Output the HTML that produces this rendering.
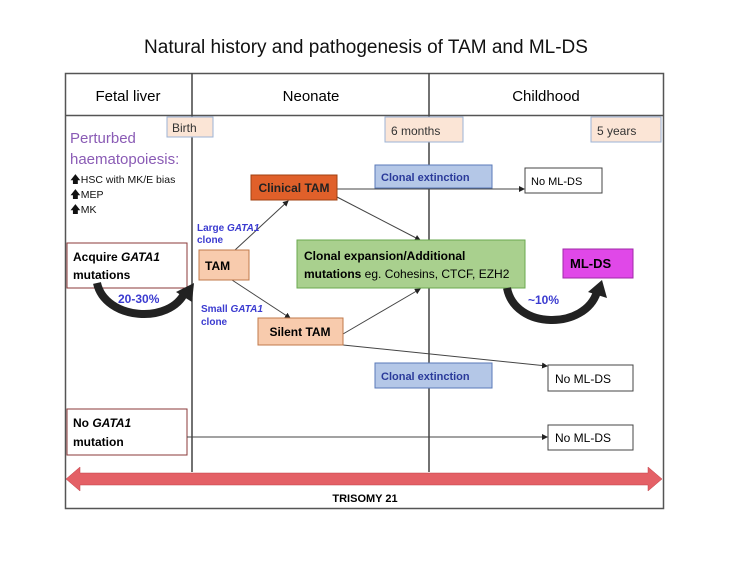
<!DOCTYPE html>
<html><head><meta charset="utf-8"><style>
body{margin:0;background:#fff;}
svg{display:block;font-family:"Liberation Sans",sans-serif;}
</style></head><body>
<svg width="737" height="568" viewBox="0 0 737 568">
<defs>
<marker id="ah" markerWidth="6" markerHeight="6" refX="5" refY="3" orient="auto"><path d="M0,0 L6,3 L0,6z" fill="#222"/></marker>
</defs>
<text x="366" y="53" text-anchor="middle" font-size="19" fill="#111">Natural history and pathogenesis of TAM and ML-DS</text>
<rect x="65.5" y="73.5" width="598" height="435" fill="none" stroke="#555" stroke-width="1.5"/>
<line x1="65" y1="115.5" x2="664" y2="115.5" stroke="#555" stroke-width="1.5"/>
<line x1="192" y1="73" x2="192" y2="472" stroke="#444" stroke-width="1.5"/>
<line x1="429" y1="73" x2="429" y2="472" stroke="#444" stroke-width="1.5"/>
<text x="128" y="101" text-anchor="middle" font-size="15">Fetal liver</text>
<text x="311" y="101" text-anchor="middle" font-size="15">Neonate</text>
<text x="546" y="101" text-anchor="middle" font-size="15">Childhood</text>

<g><rect x="167" y="117" width="46" height="20" fill="#fbe5d6" stroke="#9db3d6"/><text x="172" y="132" font-size="12" fill="#333">Birth</text></g>
<g><rect x="385" y="117" width="78" height="25" fill="#fbe5d6" stroke="#9db3d6"/><text x="391" y="135" font-size="12" fill="#333">6 months</text></g>
<g><rect x="591" y="117" width="70" height="25" fill="#fbe5d6" stroke="#9db3d6"/><text x="597" y="135" font-size="12" fill="#333">5 years</text></g>

<g>
<text x="70" y="143" font-size="15" fill="#8a5bb5">Perturbed</text>
<text x="70" y="164" font-size="15" fill="#8a5bb5">haematopoiesis:</text>
<text x="70" y="183" font-size="10.5" fill="#111">🡅HSC with MK/E bias</text>
<text x="70" y="198" font-size="10.5" fill="#111">🡅MEP</text>
<text x="70" y="213" font-size="10.5" fill="#111">🡅MK</text>
</g>

<g><rect x="67" y="243" width="120" height="45" fill="#fff" stroke="#8b3a3a"/><text x="73" y="261" font-size="12" font-weight="bold">Acquire <tspan font-style="italic">GATA1</tspan></text><text x="73" y="279" font-size="12" font-weight="bold">mutations</text></g>
<g><rect x="67" y="409" width="120" height="46" fill="#fff" stroke="#8b3a3a"/><text x="73" y="427" font-size="12" font-weight="bold">No <tspan font-style="italic">GATA1</tspan></text><text x="73" y="446" font-size="12" font-weight="bold">mutation</text></g>

<g stroke="#444" stroke-width="1" fill="none">
<line x1="235" y1="250" x2="288" y2="201" marker-end="url(#ah)"/>
<line x1="232" y1="280" x2="290" y2="318" marker-end="url(#ah)"/>
<line x1="337" y1="189" x2="524" y2="189" marker-end="url(#ah)"/>
<line x1="337" y1="197" x2="420" y2="240" marker-end="url(#ah)"/>
<line x1="343" y1="334" x2="420" y2="289" marker-end="url(#ah)"/>
<line x1="343" y1="345" x2="547" y2="366" marker-end="url(#ah)"/>
<line x1="187" y1="437" x2="547" y2="437" marker-end="url(#ah)"/>
</g>

<text x="197" y="231" font-size="10" font-weight="bold" fill="#3b3bd0">Large <tspan font-style="italic">GATA1</tspan></text>
<text x="197" y="243" font-size="10" font-weight="bold" fill="#3b3bd0">clone</text>
<text x="201" y="312" font-size="10" font-weight="bold" fill="#3b3bd0">Small <tspan font-style="italic">GATA1</tspan></text>
<text x="201" y="325" font-size="10" font-weight="bold" fill="#3b3bd0">clone</text>

<g><rect x="199" y="250" width="50" height="30" fill="#f8cbad" stroke="#c0784a"/><text x="205" y="270" font-size="12" font-weight="bold">TAM</text></g>
<g><rect x="251" y="175" width="86" height="25" fill="#e0602a" stroke="#a04010"/><text x="294" y="192" text-anchor="middle" font-size="12" font-weight="bold" fill="#222">Clinical TAM</text></g>
<g><rect x="258" y="318" width="85" height="27" fill="#f8cbad" stroke="#c0784a"/><text x="300" y="336" text-anchor="middle" font-size="12" font-weight="bold">Silent TAM</text></g>
<g><rect x="297" y="240" width="228" height="48" fill="#a9d08e" stroke="#6aa84f"/><text x="304" y="260" font-size="12" font-weight="bold">Clonal expansion/Additional</text><text x="304" y="278" font-size="12"><tspan font-weight="bold">mutations</tspan> eg. Cohesins, CTCF, EZH2</text></g>
<g><rect x="375" y="165" width="117" height="23" fill="#b4c7e7" stroke="#5a7ab8"/><text x="381" y="181" font-size="11" font-weight="bold" fill="#2a3a9a">Clonal extinction</text></g>
<g><rect x="375" y="363" width="117" height="25" fill="#b4c7e7" stroke="#5a7ab8"/><text x="381" y="380" font-size="11" font-weight="bold" fill="#2a3a9a">Clonal extinction</text></g>
<g><rect x="525" y="168" width="77" height="25" fill="#fff" stroke="#444"/><text x="531" y="185" font-size="11">No ML-DS</text></g>
<g><rect x="548" y="365" width="85" height="26" fill="#fff" stroke="#444"/><text x="555" y="383" font-size="12">No ML-DS</text></g>
<g><rect x="548" y="425" width="85" height="25" fill="#fff" stroke="#444"/><text x="555" y="442" font-size="12">No ML-DS</text></g>
<g><rect x="563" y="249" width="70" height="29" fill="#e048e8" stroke="#a02aa8"/><text x="570" y="268" font-size="13" font-weight="bold">ML-DS</text></g>

<g>
<path d="M97,283 C105,320 170,325 185,292" fill="none" stroke="#222" stroke-width="8"/>
<path d="M176,292 L194,283 L192,302z" fill="#222"/>
<text x="118" y="303" font-size="12" font-weight="bold" fill="#3b3bd0">20-30%</text>
</g>
<g>
<path d="M507,288 C515,330 585,330 597,292" fill="none" stroke="#222" stroke-width="8"/>
<path d="M588,292 L602,280 L607,298z" fill="#222"/>
<text x="528" y="304" font-size="12" font-weight="bold" fill="#3b3bd0">~10%</text>
</g>

<g>
<path d="M66,479 L80,467 L80,473 L648,473 L648,467 L662,479 L648,491 L648,485 L80,485 L80,491z" fill="#e46066" stroke="#c04048" stroke-width="0.5"/>
</g>
<text x="365" y="502" text-anchor="middle" font-size="11" font-weight="bold">TRISOMY 21</text>
</svg>
</body></html>
